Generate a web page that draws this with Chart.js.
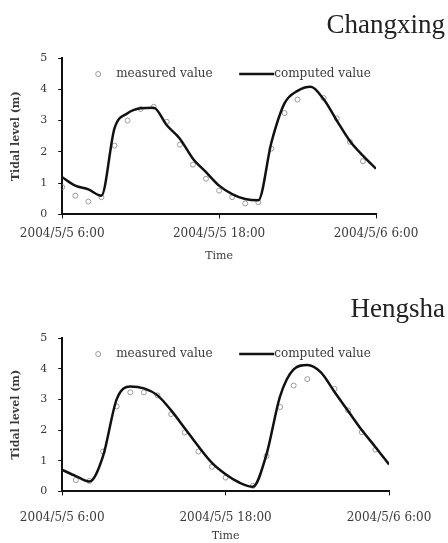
<!DOCTYPE html>
<html lang="en">
<head>
  <meta charset="UTF-8" />
  <title>Tidal level</title>
  <script src="https://cdn.jsdelivr.net/npm/chart.js"></script>
  <style>
    body {
      margin: 0;
      padding: 0;
      background: #fff;
    }
    .box { width: 448px; position: relative; }
    canvas { display: block; }
  </style>
</head>
<body>
  <div class="box"><canvas id="topChart" width="448" height="270"></canvas></div>
  <div class="box"><canvas id="bottomChart" width="448" height="273"></canvas></div>

  <script>
    // hours after 2004/5/5 6:00
    const hours = [0, 1, 2, 3, 4, 5, 6, 7, 8, 9, 10, 11, 12, 13, 14, 15, 16, 17, 18, 19, 20, 21, 22, 23, 24];
    const tickLabels = { 0: '2004/5/5 6:00', 12: '2004/5/5 18:00', 24: '2004/5/6 6:00' };

    const changxingMeasured = [0.87, 0.6, 0.41, 0.55, 2.2, 3.0, 3.37, 3.44, 2.96, 2.23, 1.59, 1.14, 0.76, 0.55, 0.35, 0.39, 2.1, 3.24, 3.67, null, 3.72, 3.07, 2.32, 1.7, null];
    const changxingComputed = [1.19, 0.92, 0.8, 0.6, 2.75, 3.23, 3.39, 3.41, 2.85, 2.42, 1.78, 1.35, 0.92, 0.65, 0.49, 0.45, 2.3, 3.55, 3.95, 4.08, 3.68, 3.0, 2.35, 1.88, 1.46];

    const hengshaMeasured = [null, 0.37, 0.34, 1.3, 2.77, 3.23, 3.23, 3.13, 2.52, 1.92, 1.3, 0.8, 0.45, null, 0.18, 1.15, 2.75, 3.45, 3.66, null, 3.34, 2.64, 1.93, 1.36, null];
    const hengshaComputed = [0.7, 0.5, 0.32, 1.15, 3.0, 3.42, 3.36, 3.13, 2.64, 2.06, 1.47, 0.93, 0.56, 0.29, 0.15, 1.2, 3.1, 3.98, 4.12, 3.88, 3.24, 2.62, 2.0, 1.45, 0.88];

    const serif = 'DejaVu Serif';
    const textColor = '#3a3a3a';

    // station name, flush with the right edge of the canvas
    const stationTitle = {
      id: 'stationTitle',
      afterDraw(chart, args, opts) {
        const { ctx } = chart;
        ctx.save();
        ctx.font = '27px "Liberation Serif"';
        ctx.fillStyle = '#222';
        ctx.textAlign = 'right';
        ctx.textBaseline = 'alphabetic';
        ctx.fillText(opts.text, chart.width - 3, opts.baseline);
        ctx.restore();
      }
    };

    // legend drawn inside the plot, like the original
    const innerLegend = {
      id: 'innerLegend',
      afterDatasetsDraw(chart) {
        const { ctx, chartArea } = chart;
        const y = chartArea.top + 16;
        const ds = chart.data.datasets;
        ctx.save();
        ctx.font = '12px ' + serif;
        ctx.fillStyle = textColor;
        ctx.textBaseline = 'middle';
        ctx.beginPath();
        ctx.arc(chartArea.left + 36, y, 2.5, 0, Math.PI * 2);
        ctx.strokeStyle = '#9a9a9a';
        ctx.lineWidth = 1;
        ctx.stroke();
        ctx.fillText(ds[0].label, chartArea.left + 54, y);
        ctx.beginPath();
        ctx.moveTo(chartArea.left + 177, y);
        ctx.lineTo(chartArea.left + 212, y);
        ctx.strokeStyle = '#111';
        ctx.lineWidth = 2.5;
        ctx.stroke();
        ctx.fillText(ds[1].label, chartArea.left + 212, y);
        ctx.restore();
      }
    };

    function makeChart(id, title, baseline, measured, computed, pad, xTickPad, xTitlePad) {
      const ctx = document.getElementById(id).getContext('2d');
      return new Chart(ctx, {
        type: 'line',
        data: {
          labels: hours,
          datasets: [
            {
              label: 'measured value',
              data: hours.map((h, i) => ({ x: h, y: measured[i] })),
              showLine: false,
              pointRadius: 2.5,
              pointBackgroundColor: 'rgba(255,255,255,0)',
              pointBorderColor: '#9a9a9a',
              pointBorderWidth: 1,
              order: 2
            },
            {
              label: 'computed value',
              data: hours.map((h, i) => ({ x: h, y: computed[i] })),
              borderColor: '#111',
              borderWidth: 2.5,
              pointRadius: 0,
              cubicInterpolationMode: 'monotone',
              fill: false,
              order: 1
            }
          ]
        },
        options: {
          responsive: false,
          animation: false,
          devicePixelRatio: 1,
          layout: { padding: pad },
          plugins: {
            legend: { display: false },
            tooltip: { enabled: false },
            stationTitle: { text: title, baseline: baseline }
          },
          scales: {
            x: {
              type: 'linear',
              min: 0,
              max: 24,
              ticks: {
                stepSize: 12,
                color: textColor,
                font: { family: serif, size: 12 },
                padding: xTickPad,
                maxRotation: 0,
                callback: v => tickLabels[v] || ''
              },
              grid: { drawOnChartArea: false, color: '#111', tickLength: 4 },
              border: { color: '#111', width: 2 },
              title: {
                display: true,
                text: 'Time',
                color: textColor,
                font: { family: serif, size: 11 },
                padding: { top: xTitlePad, bottom: 0 }
              }
            },
            y: {
              min: 0,
              max: 5,
              ticks: {
                stepSize: 1,
                color: textColor,
                font: { family: serif, size: 11 },
                padding: 11
              },
              grid: { drawOnChartArea: false, color: '#111', tickLength: 4 },
              border: { color: '#111', width: 2 },
              title: {
                display: true,
                text: 'Tidal level (m)',
                color: textColor,
                font: { family: serif, size: 11, weight: 'bold' },
                padding: { top: 2, bottom: 6 }
              }
            }
          }
        },
        plugins: [stationTitle, innerLegend]
      });
    }

    makeChart('topChart', 'Changxing', 33, changxingMeasured, changxingComputed,
      { left: 8, right: 72, top: 58, bottom: 7 }, 8, 1);
    makeChart('bottomChart', 'Hengsha', 47, hengshaMeasured, hengshaComputed,
      { left: 8, right: 59, top: 68, bottom: 0 }, 15, -10);
  </script>
</body>
</html>
